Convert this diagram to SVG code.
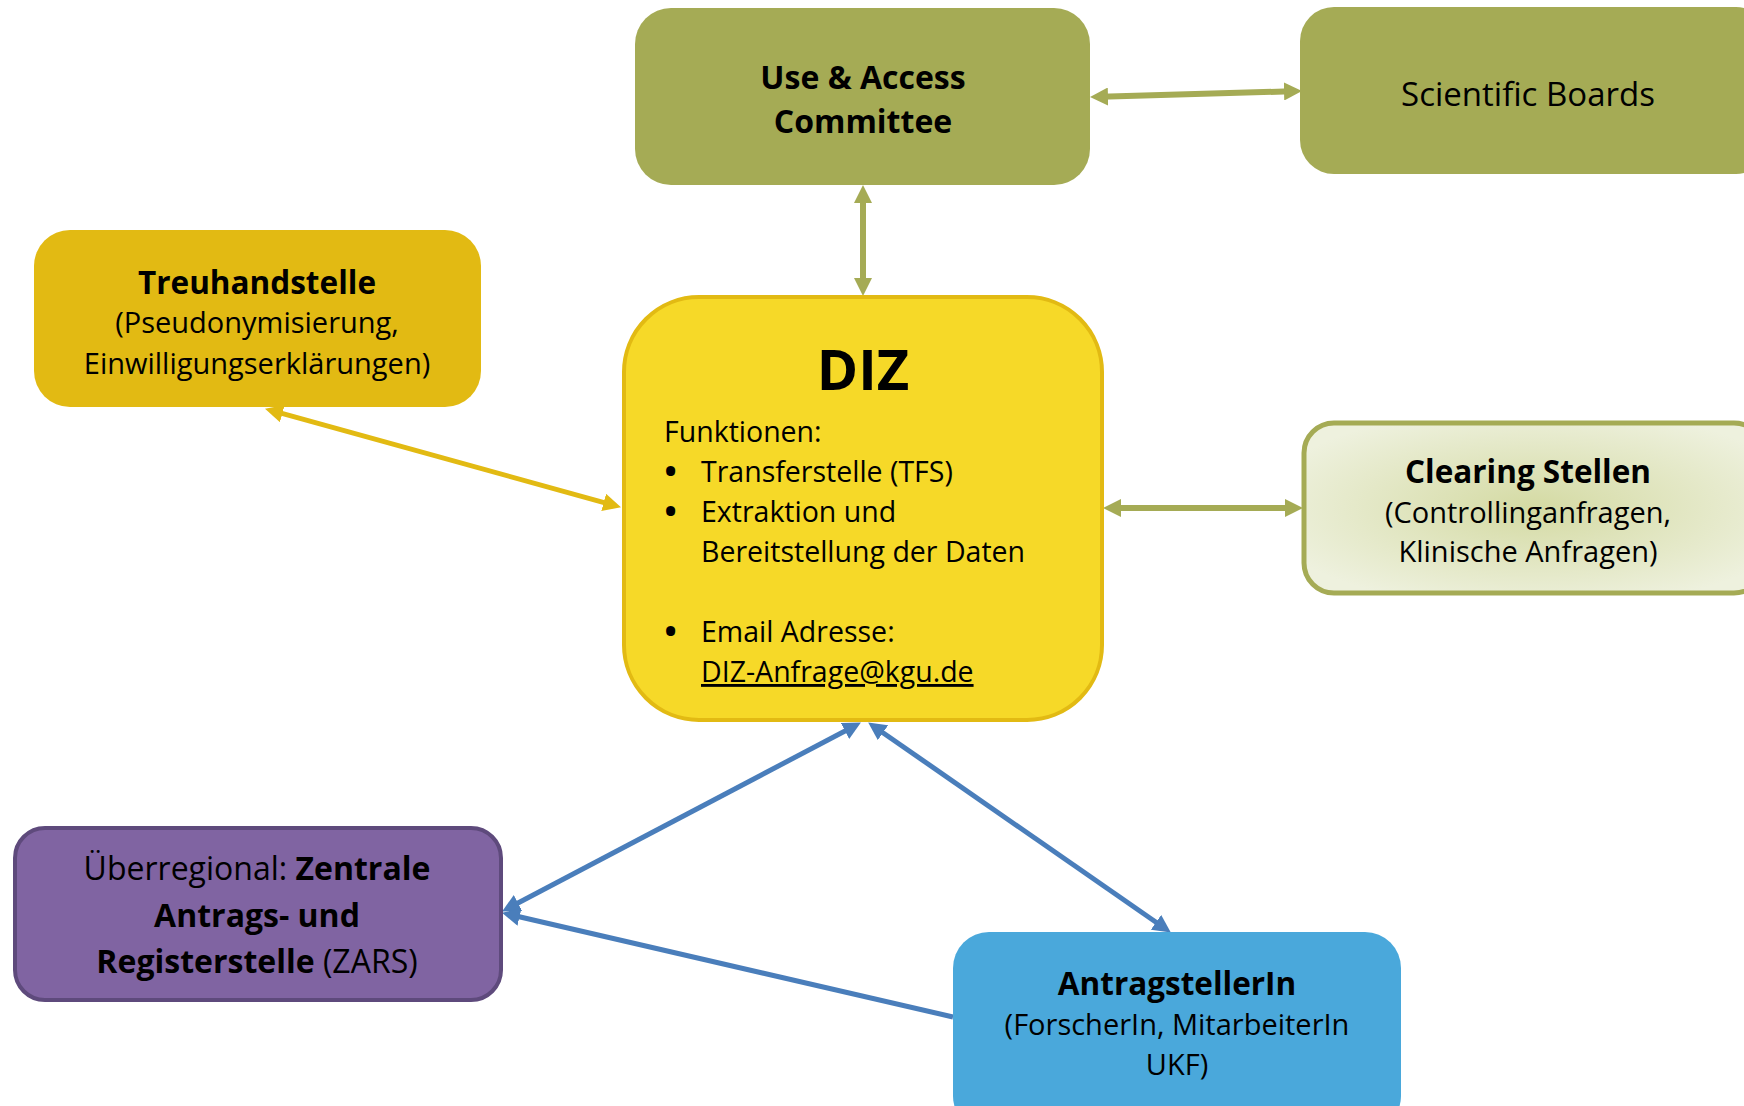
<svg xmlns="http://www.w3.org/2000/svg" width="1744" height="1106" viewBox="0 0 1744 1106">
<style>
text{font-family:"Open Sans","Noto Sans","Liberation Sans",sans-serif;fill:#000;text-anchor:middle}
.b{font-weight:bold}
.t29{font-size:29px}
.h{font-size:31.5px;font-weight:bold}
.l{text-anchor:start}
.d{font-size:28.5px}
.bu{font-size:28.5px;font-weight:900;text-anchor:start}
.olive{stroke:#A5AB55;stroke-width:6;fill:none}
.gold{stroke:#E2BA13;stroke-width:5;fill:none}
.blue{stroke:#4A7EBB;stroke-width:5;fill:none}
</style>
<defs>
<marker id="mo" viewBox="0 0 18 18" markerWidth="18" markerHeight="18" refX="7" refY="9" orient="auto-start-reverse" markerUnits="userSpaceOnUse"><path d="M0,0 L18,9 L0,18 z" fill="#A5AB55"/></marker>
<marker id="mg" viewBox="0 0 18 18" markerWidth="18" markerHeight="18" refX="7" refY="9" orient="auto-start-reverse" markerUnits="userSpaceOnUse"><path d="M0,0 L18,9 L0,18 z" fill="#E2BA13"/></marker>
<marker id="mb" viewBox="0 0 18 18" markerWidth="18" markerHeight="18" refX="7" refY="9" orient="auto-start-reverse" markerUnits="userSpaceOnUse"><path d="M0,0 L18,9 L0,18 z" fill="#4A7EBB"/></marker>
<radialGradient id="cg" cx="0.5" cy="0.5" r="0.6">
<stop offset="0" stop-color="#D4DAA3"/>
<stop offset="1" stop-color="#EEF1DE"/>
</radialGradient>
</defs>

<g id="connectors">
<line class="olive" x1="1101" y1="96.7" x2="1291" y2="91.3" marker-start="url(#mo)" marker-end="url(#mo)"/>
<line class="olive" x1="863" y1="196" x2="863" y2="285" marker-start="url(#mo)" marker-end="url(#mo)"/>
<line class="gold" x1="275.6" y1="411.7" x2="610.4" y2="504.3" marker-start="url(#mg)" marker-end="url(#mg)"/>
<line class="olive" x1="1114" y1="508" x2="1292" y2="508" marker-start="url(#mo)" marker-end="url(#mo)"/>
<line class="blue" x1="851.2" y1="727.7" x2="511.8" y2="906.3" marker-start="url(#mb)" marker-end="url(#mb)"/>
<line class="blue" x1="877.2" y1="728.7" x2="1161.8" y2="926.3" marker-start="url(#mb)" marker-end="url(#mb)"/>
<line class="blue" x1="953" y1="1017" x2="512.7" y2="915.3" marker-end="url(#mb)"/>
</g>

<g id="uac">
<rect x="635" y="8" width="455" height="177" rx="36" fill="#A5AB55"/>
<text class="b" x="863" y="89" font-size="32">Use &amp; Access</text>
<text class="b" x="863" y="133" font-size="32">Committee</text>
</g>

<g id="scientific-boards">
<rect x="1300" y="7" width="470" height="167" rx="34" fill="#A5AB55"/>
<text x="1528" y="106" font-size="33">Scientific Boards</text>
</g>

<g id="treuhandstelle">
<rect x="34" y="230" width="447" height="177" rx="36" fill="#E2BA13"/>
<text class="h" x="257" y="294">Treuhandstelle</text>
<text class="t29" x="257" y="333">(Pseudonymisierung,</text>
<text class="t29" x="257" y="374">Einwilligungserklärungen)</text>
</g>

<g id="diz">
<rect x="624" y="297" width="478" height="423" rx="75" fill="#F6D928" stroke="#E2BA13" stroke-width="4"/>
<text class="b" x="863" y="390" font-size="56">DIZ</text>
<text class="l d" x="664" y="442">Funktionen:</text>
<text class="bu" x="665" y="482">•</text>
<text class="l d" x="701" y="482">Transferstelle (TFS)</text>
<text class="bu" x="665" y="522">•</text>
<text class="l d" x="701" y="522">Extraktion und</text>
<text class="l d" x="701" y="562">Bereitstellung der Daten</text>
<text class="bu" x="665" y="642">•</text>
<text class="l d" x="701" y="642">Email Adresse:</text>
<text class="l d" x="701" y="682" text-decoration="underline">DIZ-Anfrage@kgu.de</text>
</g>

<g id="clearing-stellen">
<rect x="1304" y="423" width="460" height="170" rx="30" fill="url(#cg)" stroke="#A5AB55" stroke-width="5"/>
<text class="h" x="1528" y="483">Clearing Stellen</text>
<text class="t29" x="1528" y="523">(Controllinganfragen,</text>
<text class="t29" x="1528" y="562">Klinische Anfragen)</text>
</g>

<g id="zars">
<rect x="15" y="828" width="486" height="172" rx="30" fill="#8064A2" stroke="#5E4A7C" stroke-width="4"/>
<text x="257" y="880" font-size="32">Überregional: <tspan class="b">Zentrale</tspan></text>
<text class="b" x="257" y="927" font-size="32">Antrags- und</text>
<text x="257" y="973" font-size="32"><tspan class="b">Registerstelle</tspan> (ZARS)</text>
</g>

<g id="antragstellerin">
<rect x="953" y="932" width="448" height="200" rx="36" fill="#4AA8DB"/>
<text class="h" x="1177" y="995">AntragstellerIn</text>
<text class="t29" x="1177" y="1035">(ForscherIn, MitarbeiterIn</text>
<text class="t29" x="1177" y="1075">UKF)</text>
</g>
</svg>
